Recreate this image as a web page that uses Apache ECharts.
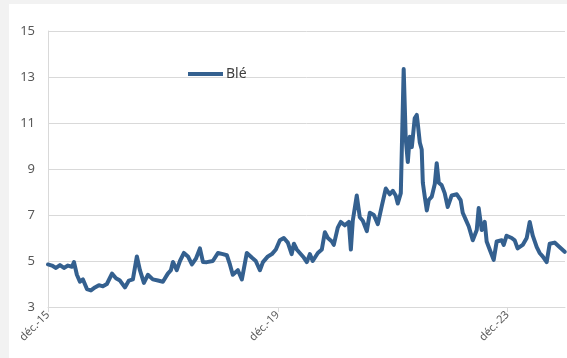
<!DOCTYPE html>
<html>
<head>
<meta charset="utf-8">
<script src="https://cdn.jsdelivr.net/npm/echarts@6/dist/echarts.min.js"></script>
<style>
  html, body { margin: 0; padding: 0; background: #f2f2f2; width: 567px; height: 358px; overflow: hidden; }
  #frame { position: absolute; left: 9px; top: 4px; width: 558px; height: 354px; background: #ffffff; }
</style>
</head>
<body>
<div id="frame"></div>
<script>
// Prix hebdomadaire du blé (observations relevées de décembre 2015 à fin 2024)
const dates = [
  '2015-12-01','2015-12-26','2016-01-21','2016-02-16','2016-03-11','2016-04-06','2016-05-01','2016-05-14',
  '2016-06-02','2016-06-21','2016-07-10','2016-08-05','2016-08-30','2016-09-25','2016-10-20','2016-11-15',
  '2016-12-10','2017-01-12','2017-02-07','2017-03-02','2017-04-03','2017-04-28','2017-05-23','2017-06-18',
  '2017-07-07','2017-08-02','2017-08-27','2017-09-28','2017-10-30','2017-12-01','2018-01-02','2018-01-21',
  '2018-02-04','2018-02-28','2018-03-18','2018-04-13','2018-05-08','2018-06-03','2018-06-28','2018-07-23',
  '2018-08-12','2018-09-07','2018-10-14','2018-11-16','2018-12-17','2019-01-12','2019-02-01','2019-02-19',
  '2019-03-21','2019-04-16','2019-05-17','2019-06-18','2019-07-13','2019-08-09','2019-08-28','2019-09-29',
  '2019-10-24','2019-11-19','2019-12-14','2020-01-09','2020-02-04','2020-02-28','2020-03-12','2020-03-30',
  '2020-04-19','2020-05-14','2020-06-03','2020-06-22','2020-07-10','2020-08-12','2020-09-07','2020-09-26',
  '2020-10-15','2020-11-10','2020-11-22','2020-12-17','2021-01-06','2021-02-01','2021-02-26','2021-03-09',
  '2021-03-21','2021-04-16','2021-05-05','2021-05-24','2021-06-19','2021-07-08','2021-08-03','2021-08-28',
  '2021-09-23','2021-10-18','2021-11-13','2021-12-02','2021-12-20','2022-01-03','2022-01-22','2022-02-04',
  '2022-02-10','2022-02-23','2022-03-06','2022-03-18','2022-03-31','2022-04-07','2022-04-19','2022-05-02',
  '2022-05-08','2022-05-21','2022-06-03','2022-06-10','2022-06-22','2022-07-05','2022-07-17','2022-08-06',
  '2022-08-25','2022-09-07','2022-09-20','2022-10-08','2022-10-27','2022-11-16','2022-12-11','2023-01-13',
  '2023-02-07','2023-02-20','2023-03-09','2023-03-28','2023-04-23','2023-05-18','2023-05-30','2023-06-19',
  '2023-07-08','2023-07-20','2023-08-09','2023-09-04','2023-09-23','2023-10-24','2023-11-07','2023-11-25',
  '2023-12-27','2024-01-16','2024-02-04','2024-03-06','2024-04-01','2024-04-20','2024-05-09','2024-06-04',
  '2024-06-22','2024-07-11','2024-08-06','2024-08-25','2024-09-26','2024-10-28','2024-11-29'
];

const ble = [
  4.85, 4.80, 4.70, 4.82, 4.70, 4.80, 4.75, 4.95,
  4.40, 4.10, 4.20, 3.78, 3.72, 3.85, 3.95, 3.90,
  4.00, 4.45, 4.25, 4.15, 3.85, 4.15, 4.20, 5.20,
  4.60, 4.05, 4.40, 4.20, 4.15, 4.10, 4.45, 4.60,
  4.96, 4.60, 5.00, 5.35, 5.20, 4.85, 5.10, 5.55,
  4.96, 4.95, 5.00, 5.35, 5.30, 5.25, 4.85, 4.40,
  4.60, 4.20, 5.35, 5.15, 5.00, 4.60, 4.95, 5.20,
  5.30, 5.50, 5.90, 6.00, 5.80, 5.30, 5.75, 5.50,
  5.35, 5.15, 4.95, 5.30, 5.00, 5.35, 5.50, 6.25,
  6.00, 5.85, 5.70, 6.45, 6.70, 6.55, 6.70, 5.50,
  6.75, 7.85, 6.90, 6.75, 6.30, 7.10, 7.00, 6.60,
  7.40, 8.15, 7.90, 8.05, 7.85, 7.50, 7.95, 8.00,
  13.35, 10.30, 9.30, 10.40, 9.95, 10.35, 11.20, 11.35,
  11.00, 10.15, 9.85, 8.40, 7.80, 7.20, 7.65, 7.80,
  8.35, 9.25, 8.40, 8.30, 7.95, 7.35, 7.85, 7.90,
  7.65, 7.10, 6.80, 6.50, 5.90, 6.35, 7.30, 6.35,
  6.70, 5.85, 5.50, 5.05, 5.85, 5.90, 5.70, 6.10,
  6.00, 5.90, 5.55, 5.70, 6.00, 6.70, 6.10, 5.60,
  5.35, 5.20, 4.95, 5.75, 5.80, 5.60, 5.40
];

const seriesName = 'Blé';
const yTicks = { min: 3, max: 15, step: 2 };
// Labelled months on the time axis (months since December 2015): déc.-15, déc.-19, déc.-23
const xTickMonths = [0, 48, 96];
const monthNames = ['janv.', 'févr.', 'mars', 'avr.', 'mai', 'juin', 'juil.', 'août', 'sept.', 'oct.', 'nov.', 'déc.'];

// Position on the horizontal axis: months elapsed since 1 December 2015
function monthsSinceStart(iso) {
  const [y, m, d] = iso.split('-').map(Number);
  return (y - 2015) * 12 + (m - 12) + (d - 1) / 30;
}

function monthLabel(v) {
  const total = Math.round(v) + 11; // month index from January 2015
  const year = 2015 + Math.floor(total / 12);
  return monthNames[total % 12] + '-' + String(year).slice(2);
}

const points = dates.map((d, i) => [monthsSinceStart(d), ble[i]]);

const chart = echarts.init(document.getElementById('frame'), null, { renderer: 'canvas' });
const fontFamily = "'Noto Sans', 'Open Sans', sans-serif";

chart.setOption({
  animation: false,
  backgroundColor: '#ffffff',
  textStyle: { fontFamily },
  grid: { left: 39, top: 27, right: 2, bottom: 51 },
  legend: {
    left: 174,
    top: 58,
    icon: 'rect',
    itemWidth: 35,
    itemHeight: 4,
    itemGap: 10,
    textStyle: { fontSize: 14, color: '#404040', fontFamily, padding: [0, 0, 0, -2] },
    data: [seriesName]
  },
  xAxis: {
    type: 'value',
    min: 0,
    max: 108,
    interval: 48,
    axisLine: { show: true, lineStyle: { color: '#d9d9d9', width: 1 } },
    axisTick: { show: true, length: 5, customValues: xTickMonths, lineStyle: { color: '#d9d9d9' } },
    splitLine: { show: false },
    axisLabel: {
      rotate: 45,
      fontSize: 11,
      color: '#595959',
      margin: 6,
      customValues: xTickMonths,
      formatter: monthLabel
    }
  },
  yAxis: {
    type: 'value',
    min: yTicks.min,
    max: yTicks.max,
    interval: yTicks.step,
    axisLine: { show: true, lineStyle: { color: '#d9d9d9', width: 1 } },
    axisTick: { show: false },
    splitLine: { show: true, lineStyle: { color: '#d9d9d9', width: 1 } },
    axisLabel: { fontSize: 13, color: '#595959', margin: 13 }
  },
  series: [{
    name: seriesName,
    type: 'line',
    data: points,
    showSymbol: false,
    symbol: 'none',
    smooth: false,
    lineStyle: { color: '#34608f', width: 4, join: 'round', cap: 'round' },
    itemStyle: { color: '#34608f' }
  }]
});
</script>
</body>
</html>
